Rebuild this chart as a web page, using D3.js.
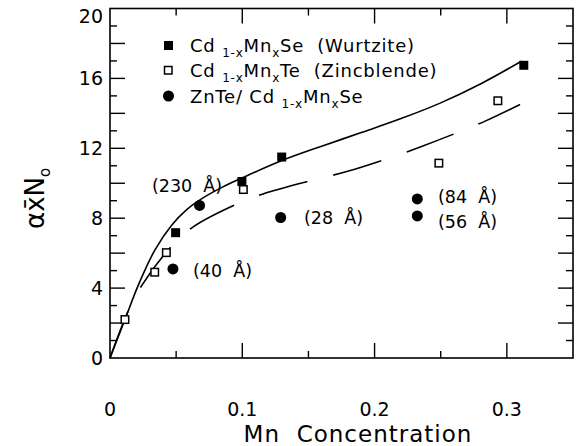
<!DOCTYPE html>
<html>
<head>
<meta charset="utf-8">
<script src="https://cdn.jsdelivr.net/npm/d3@7"></script>
<style>
  html, body { margin: 0; padding: 0; background: #fff; }
  svg { display: block; }
  text { font-family: "DejaVu Sans", "Liberation Sans", sans-serif; fill: #000; }
</style>
</head>
<body>
<svg id="chart" width="579" height="446"></svg>
<script>
// ---- data ----
const wurtziteX = [0.0496, 0.0997, 0.1298, 0.3128];
const wurtziteY = [7.17, 10.1, 11.5, 16.75];

const zincblendeX = [0.0113, 0.0338, 0.0426, 0.1008, 0.2486, 0.2932];
const zincblendeY = [2.2, 4.91, 6.03, 9.64, 11.15, 14.72];

const sqwX = [0.0476, 0.0677, 0.129, 0.2323, 0.2323];
const sqwY = [5.1, 8.73, 8.04, 9.1, 8.13];
const sqwLabels = ["(40  Å)", "(230  Å)", "(28  Å)", "(84  Å)", "(56  Å)"];

const solidCurveX = [0, 0.0113, 0.0214, 0.034, 0.0466, 0.058, 0.07, 0.085, 0.1, 0.13, 0.16, 0.19, 0.22, 0.25, 0.28, 0.311];
const solidCurveY = [0, 2.2, 4.17, 6.19, 7.6, 8.49, 9.15, 9.78, 10.31, 11.3, 12.12, 12.9, 13.7, 14.6, 15.68, 16.98];

const dashedCurveX = [0, 0.0143, 0.0238, 0.0471, 0.0624, 0.0947, 0.1158, 0.154, 0.179, 0.214, 0.236, 0.265, 0.284, 0.310];
const dashedCurveY = [0, 2.78, 4.13, 6.45, 7.48, 8.77, 9.39, 10.19, 10.67, 11.52, 12.12, 12.97, 13.57, 14.51];

const xTickLabels = [0, 0.1, 0.2, 0.3];
const yTickLabels = [0, 4, 8, 12, 16, 20];

// ---- layout ----
const svg = d3.select("#chart");
const pL = 110, pR = 573, pT = 8.5, pB = 358;
const x = d3.scaleLinear().domain([0, 0.35]).range([pL, pR]);
const y = d3.scaleLinear().domain([0, 20]).range([pB, pT]);

// frame
svg.append("rect").attr("x", pL).attr("y", pT)
  .attr("width", pR - pL).attr("height", pB - pT)
  .attr("fill", "none").attr("stroke", "#000").attr("stroke-width", 1.6);

// ticks
const xMinor = d3.range(0, 0.351, 0.05).map(v => +v.toFixed(2));
const yMinor = d3.range(0, 20.01, 1);
const longX = v => Math.abs(v * 10 - Math.round(v * 10)) < 1e-6;
const longY = v => v % 2 === 0;
const tk = svg.append("g").attr("stroke", "#000").attr("stroke-width", 1.4);
xMinor.forEach(v => {
  if (v <= 0 || v >= 0.35) return;
  const L = longX(v) ? 15 : 7;
  tk.append("line").attr("x1", x(v)).attr("x2", x(v)).attr("y1", pB).attr("y2", pB - L);
  tk.append("line").attr("x1", x(v)).attr("x2", x(v)).attr("y1", pT).attr("y2", pT + L);
});
yMinor.forEach(v => {
  if (v <= 0 || v >= 20) return;
  const L = longY(v) ? 15 : 7;
  tk.append("line").attr("x1", pL).attr("x2", pL + L).attr("y1", y(v)).attr("y2", y(v));
  tk.append("line").attr("x1", pR).attr("x2", pR - L).attr("y1", y(v)).attr("y2", y(v));
});

// tick labels
svg.append("g").selectAll("text").data(xTickLabels).join("text")
  .attr("x", d => x(d)).attr("y", 416)
  .attr("text-anchor", "middle").attr("font-size", 19)
  .text(d => d === 0 ? "0" : d3.format(".1f")(d));
svg.append("g").selectAll("text").data(yTickLabels).join("text")
  .attr("x", 103).attr("y", d => Math.max(y(d) + 7, 23))
  .attr("text-anchor", "end").attr("font-size", 19)
  .text(d => d);

// axis titles
svg.append("text").attr("x", 358).attr("y", 442).attr("text-anchor", "middle")
  .attr("font-size", 23).attr("letter-spacing", 1)
  .attr("xml:space", "preserve").text("Mn  Concentration");

const yl = svg.append("text").attr("transform", "translate(44,229) rotate(-90)")
  .attr("text-anchor", "start").attr("font-size", 26);
yl.append("tspan").text("αx\u0304N");
yl.append("tspan").attr("font-size", 15).attr("dy", 6).text("o");

// curves
const line = d3.line().x(d => x(d[0])).y(d => y(d[1])).curve(d3.curveCatmullRom.alpha(0.5));
svg.append("path").datum(d3.zip(solidCurveX, solidCurveY)).attr("d", line)
  .attr("fill", "none").attr("stroke", "#000").attr("stroke-width", 1.6);
svg.append("path").datum(d3.zip(dashedCurveX, dashedCurveY)).attr("d", line)
  .attr("fill", "none").attr("stroke", "#000").attr("stroke-width", 1.6)
  .attr("stroke-dasharray", "50,27");

// markers
const ms = 9;
svg.append("g").selectAll("rect").data(d3.zip(wurtziteX, wurtziteY)).join("rect")
  .attr("x", d => x(d[0]) - ms / 2).attr("y", d => y(d[1]) - ms / 2)
  .attr("width", ms).attr("height", ms).attr("fill", "#000");
svg.append("g").selectAll("rect").data(d3.zip(zincblendeX, zincblendeY)).join("rect")
  .attr("x", d => x(d[0]) - (ms - 1.5) / 2).attr("y", d => y(d[1]) - (ms - 1.5) / 2)
  .attr("width", ms - 1.5).attr("height", ms - 1.5).attr("fill", "#fff")
  .attr("stroke", "#000").attr("stroke-width", 1.5);
svg.append("g").selectAll("circle").data(d3.zip(sqwX, sqwY)).join("circle")
  .attr("cx", d => x(d[0])).attr("cy", d => y(d[1])).attr("r", 5.5).attr("fill", "#000");

// point labels
const labelPos = [[193, 277], [152, 192], [304, 224], [438, 203], [438, 228]];
svg.append("g").selectAll("text").data(sqwLabels).join("text")
  .attr("x", (d, i) => labelPos[i][0]).attr("y", (d, i) => labelPos[i][1])
  .attr("font-size", 17.5).attr("xml:space", "preserve").text(d => d);

// legend
const legend = svg.append("g");
const rows = [
  { y: 45, parts: ["Cd", "1-x", "Mn", "x", "Se  (Wurtzite)"], pre: "" },
  { y: 70, parts: ["Cd", "1-x", "Mn", "x", "Te  (Zincblende)"], pre: "" },
  { y: 96, parts: ["Cd", "1-x", "Mn", "x", "Se"], pre: "ZnTe/ " }
];
legend.append("rect").attr("x", 164).attr("y", 41).attr("width", ms).attr("height", ms).attr("fill", "#000");
legend.append("rect").attr("x", 164.5).attr("y", 66.5).attr("width", ms - 1.5).attr("height", ms - 1.5)
  .attr("fill", "#fff").attr("stroke", "#000").attr("stroke-width", 1.5);
legend.append("circle").attr("cx", 168.5).attr("cy", 96).attr("r", 5.5).attr("fill", "#000");
rows.forEach(r => {
  const t = legend.append("text").attr("x", 190).attr("y", r.y + 6.5).attr("font-size", 18)
    .attr("letter-spacing", 0.8).attr("xml:space", "preserve");
  t.append("tspan").text(r.pre + r.parts[0] + " ");
  t.append("tspan").attr("font-size", 12).attr("dy", 5).text(r.parts[1]);
  t.append("tspan").attr("dy", -5).text(r.parts[2]);
  t.append("tspan").attr("font-size", 12).attr("dy", 5).text(r.parts[3]);
  t.append("tspan").attr("dy", -5).text(r.parts[4]);
});
</script>
</body>
</html>
